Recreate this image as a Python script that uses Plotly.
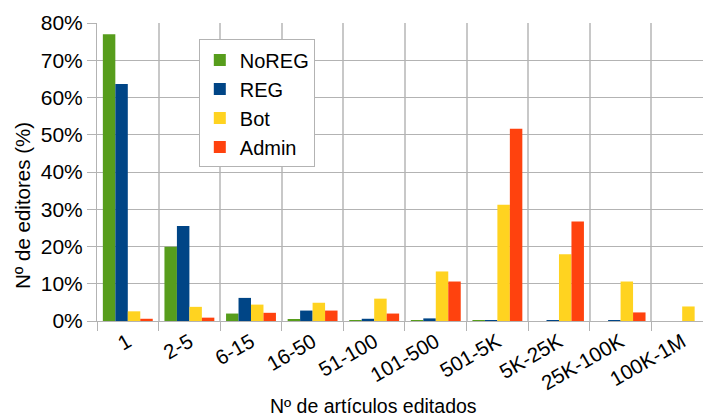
import plotly.graph_objects as go

categories = ["1", "2-5", "6-15", "16-50", "51-100", "101-500",
              "501-5K", "5K-25K", "25K-100K", "100K-1M"]
noreg = [77.0, 19.9, 2.0, 0.35, 0.1, 0.2, 0.2, 0.0, 0.0, 0.0]
reg = [63.6, 25.5, 6.2, 2.8, 0.6, 0.7, 0.2, 0.2, 0.2, 0.0]
bot = [2.6, 3.8, 4.4, 4.9, 6.0, 13.3, 31.2, 17.9, 10.6, 3.9]
admin = [0.6, 0.9, 2.2, 2.8, 2.0, 10.6, 51.6, 26.7, 2.3, 0.0]

series = [
    ("NoREG", noreg, "#579d1c"),
    ("REG", reg, "#004586"),
    ("Bot", bot, "#ffd320"),
    ("Admin", admin, "#ff420e"),
]

FONT = "Liberation Sans, Arial, sans-serif"

fig = go.Figure()
for name, vals, color in series:
    fig.add_trace(go.Bar(x=categories, y=vals, name=name,
                         marker=dict(color=color, line=dict(width=0))))

fig.update_layout(
    width=703,
    height=417,
    margin=dict(l=97, r=0, t=23, b=96, autoexpand=False),
    paper_bgcolor="white",
    plot_bgcolor="white",
    barmode="group",
    bargap=0.19,
    bargroupgap=0,
    font=dict(family=FONT, size=21, color="#000000"),
    showlegend=True,
    legend=dict(
        x=0.168, y=0.945, xanchor="left", yanchor="top",
        bordercolor="#b3b3b3", borderwidth=1, bgcolor="white",
        font=dict(size=20),
        tracegroupgap=0,
    ),
)

fig.update_xaxes(
    type="category",
    range=[-0.5, 9.338],
    automargin=False,
    tickangle=-30,
    tickson="boundaries",
    ticks="outside",
    ticklen=9,
    tickcolor="#b3b3b3",
    showgrid=True,
    gridcolor="#c8c8c8",
    gridwidth=1.5,
    showline=True,
    linecolor="#b3b3b3",
    tickfont=dict(size=20.5),
)
fig.update_yaxes(
    range=[0, 80],
    automargin=False,
    dtick=10,
    ticksuffix="%",
    ticks="outside",
    ticklen=9,
    tickcolor="#b3b3b3",
    showgrid=True,
    gridcolor="#b3b3b3",
    gridwidth=1,
    showline=True,
    linecolor="#b3b3b3",
    zeroline=False,
    tickfont=dict(size=21),
)

fig.add_annotation(text="Nº de artículos editados", xref="paper", yref="paper",
                   x=0.457, y=-0.286, xanchor="center", yanchor="middle",
                   showarrow=False, font=dict(size=19.5))
fig.add_annotation(text="Nº de editores (%)", xref="paper", yref="paper",
                   x=-0.124, y=0.389, xanchor="center", yanchor="middle",
                   textangle=-90, showarrow=False, font=dict(size=20.5))

# page body has a default 8px margin; drop it so the figure sits at 0,0
fig.write_html("out.html", config={"displayModeBar": False},
               post_script="document.body.style.margin='0';")
